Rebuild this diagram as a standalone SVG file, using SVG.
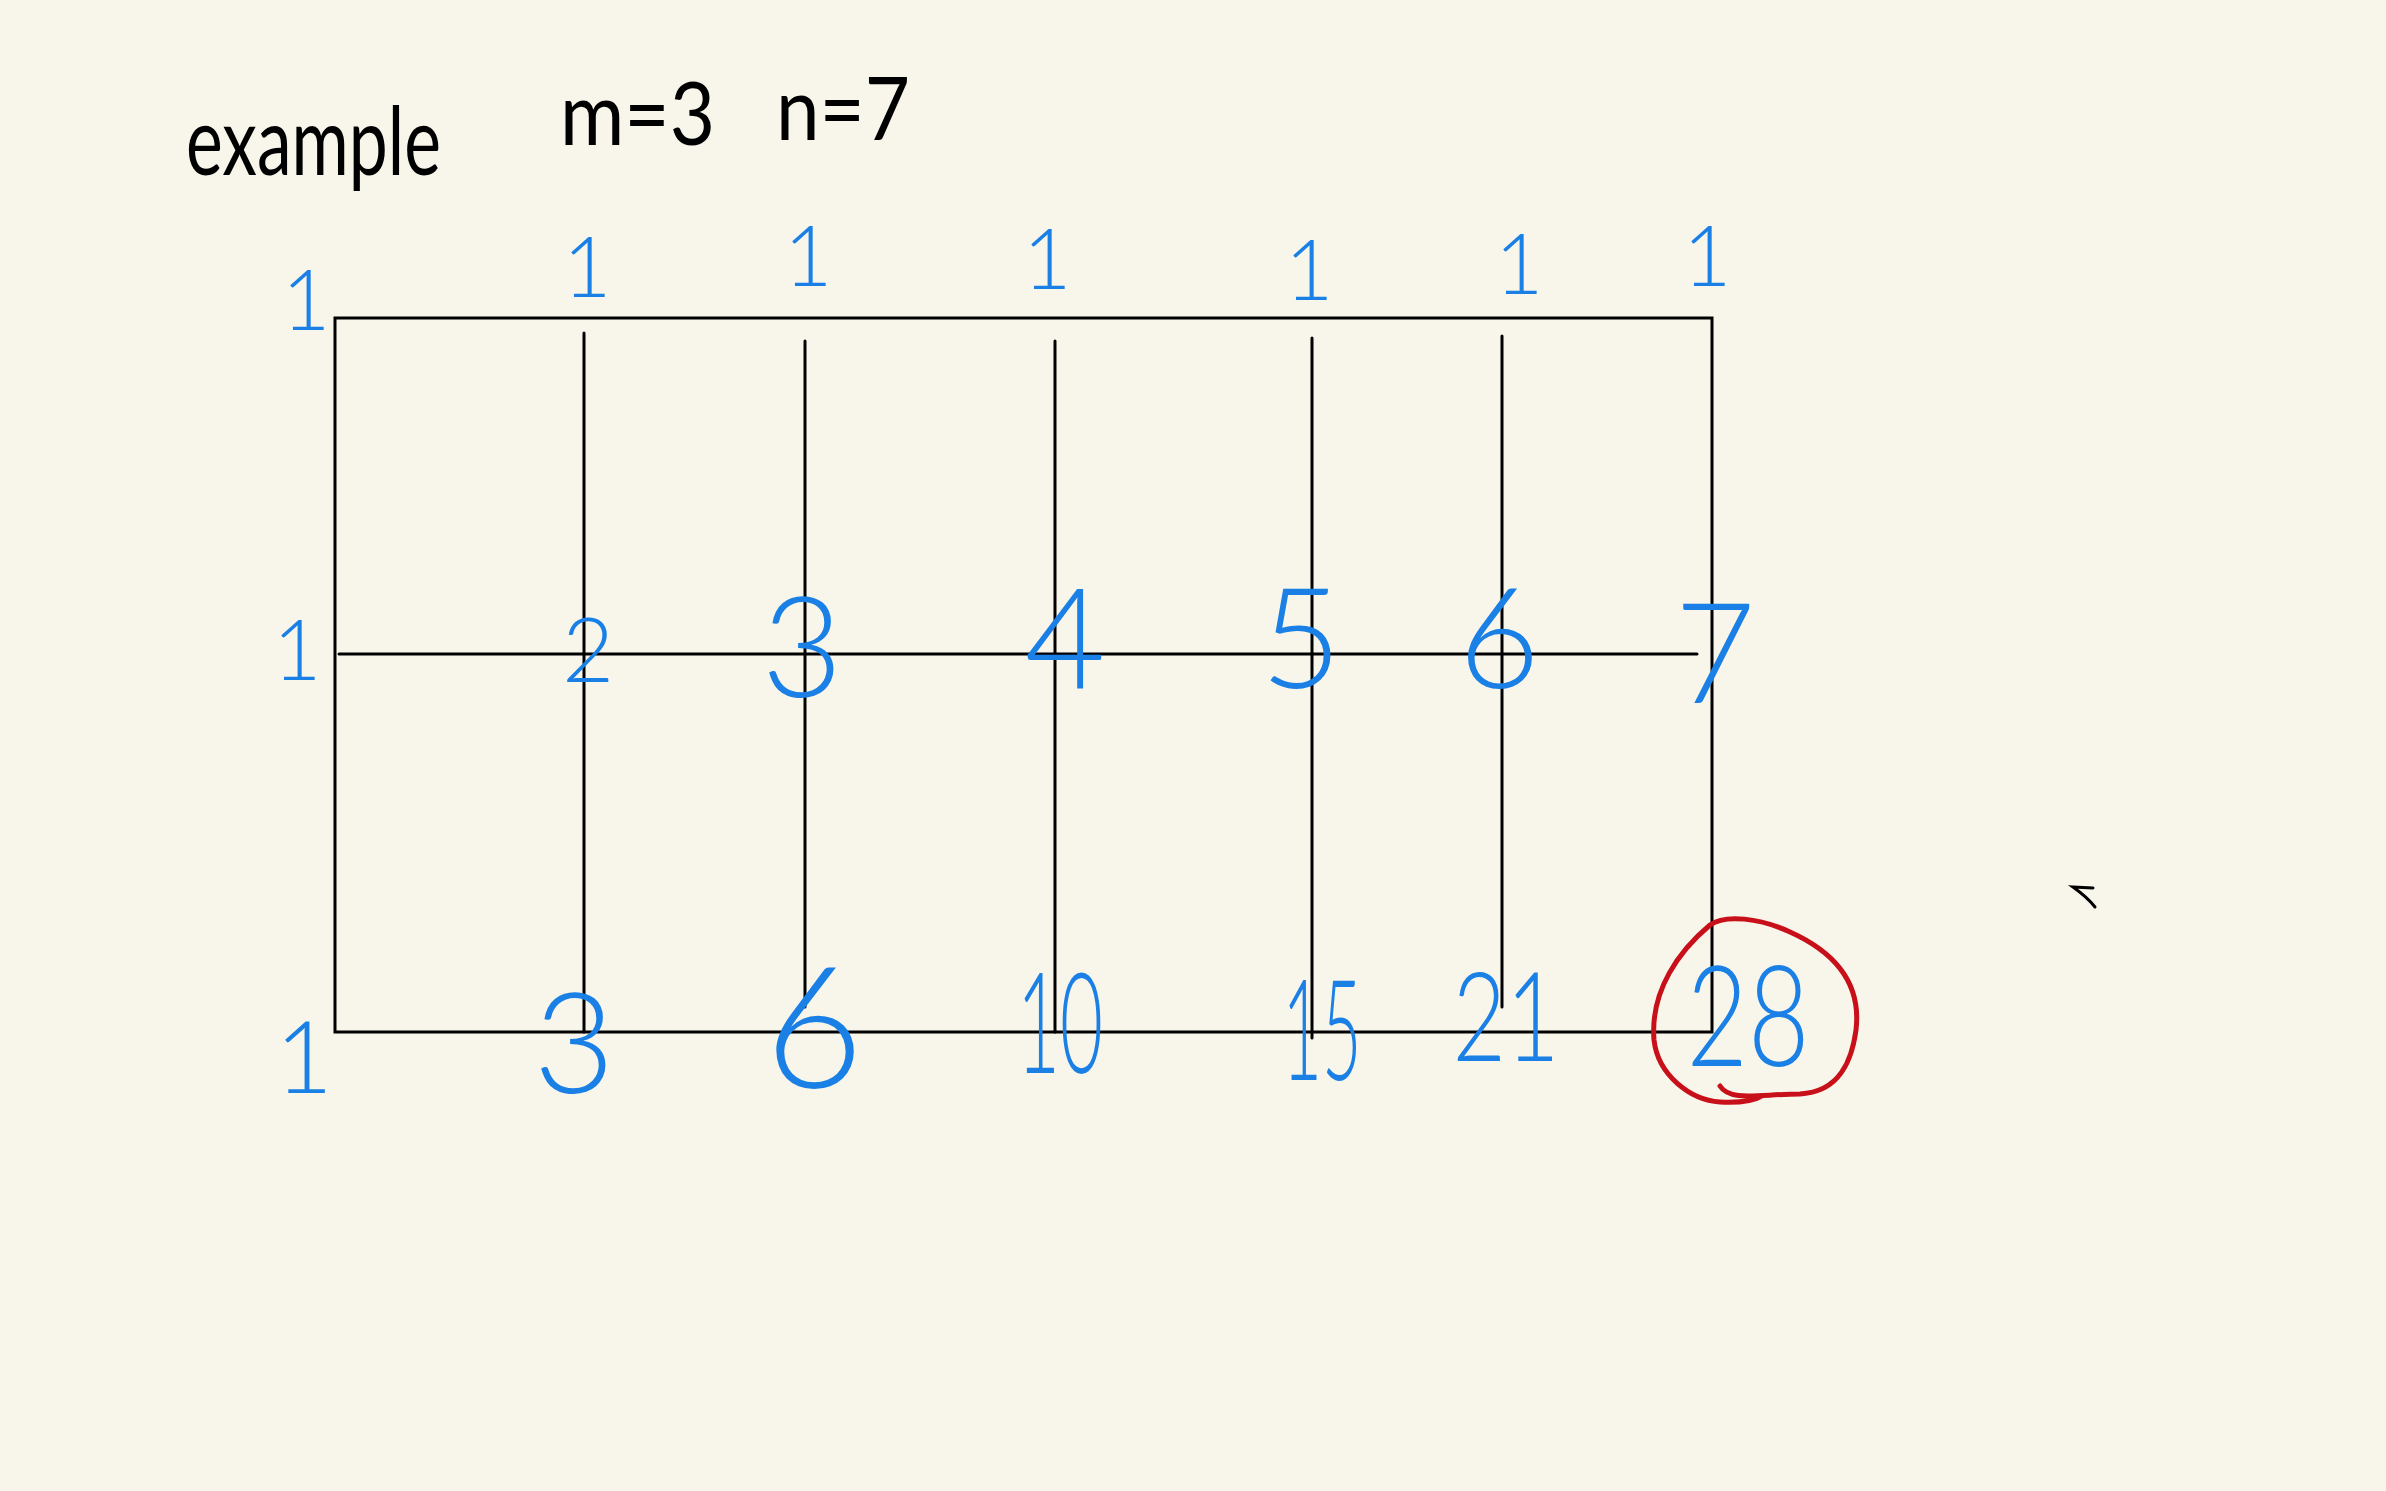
<svg xmlns="http://www.w3.org/2000/svg" width="2386" height="1491" viewBox="0 0 2386 1491">
<style>
.ink{stroke:#000;stroke-width:3;fill:none;stroke-linecap:round}
.num{fill:#1a80e6;font-family:Lato,"Open Sans","Liberation Sans",sans-serif;font-weight:300;text-anchor:middle}
.big{font-size:140px}
.one{font-size:84px}
.title{fill:#000;font-family:Lato,"Open Sans","Liberation Sans",sans-serif;font-weight:400}
</style>
<rect width="2386" height="1491" fill="#f8f6ea"/>
<g id="title">
<text class="title" x="186" y="175" font-size="95" textLength="255" lengthAdjust="spacingAndGlyphs">example</text>
<text class="title" x="560" y="145" font-size="88" textLength="155" lengthAdjust="spacingAndGlyphs">m=3</text>
<text class="title" x="776" y="140" font-size="88" textLength="134" lengthAdjust="spacingAndGlyphs">n=7</text>
</g>
<g id="grid">
<rect x="335" y="318" width="1377" height="714" class="ink"/>
<line class="ink" x1="339" y1="654" x2="1697" y2="654"/>
<line class="ink" x1="584" y1="333" x2="584" y2="1032"/>
<line class="ink" x1="805" y1="341" x2="805" y2="1007"/>
<line class="ink" x1="1055" y1="341" x2="1055" y2="1032"/>
<line class="ink" x1="1312" y1="338" x2="1312" y2="1038"/>
<line class="ink" x1="1502" y1="336" x2="1502" y2="1007"/>
</g>
<g id="row-top">
<text class="num one" x="306" y="330">1</text>
<text class="num one" x="587" y="297">1</text>
<text class="num one" x="808" y="286">1</text>
<text class="num one" x="1047" y="289">1</text>
<text class="num one" x="1309" y="300">1</text>
<text class="num one" x="1519" y="294">1</text>
<text class="num one" x="1707" y="286">1</text>
</g>
<g id="row-middle">
<text class="num one" x="297" y="680">1</text>
<text class="num" font-size="90" x="588" y="682">2</text>
<text class="num big" x="802" y="697">3</text>
<text class="num big" x="1065" y="689">4</text>
<text class="num big" x="1301" y="688">5</text>
<text class="num big" x="1499" y="688">6</text>
<text class="num big" x="1715" y="703">7</text>
</g>
<g id="row-bottom">
<text class="num" font-size="100" x="304" y="1093">1</text>
<text class="num big" x="574" y="1093">3</text>
<text class="num" font-size="170" x="814" y="1088">6</text>
<text class="num big" x="1060" y="1073" textLength="86" lengthAdjust="spacingAndGlyphs">10</text>
<text class="num big" x="1322" y="1080" textLength="79" lengthAdjust="spacingAndGlyphs">15</text>
<text class="num" font-size="125" x="1506" y="1061" textLength="107" lengthAdjust="spacingAndGlyphs">21</text>
</g>
<g id="answer">
<text class="num big" x="1748" y="1066" textLength="123" lengthAdjust="spacingAndGlyphs">28</text>
<path d="M1720,1086 C1730,1102 1760,1094 1800,1094 C1840,1092 1852,1060 1856,1030 C1862,980 1830,950 1790,932 C1760,918 1725,914 1710,925 C1680,950 1650,990 1654,1040 C1658,1075 1690,1100 1720,1102 C1740,1103 1755,1100 1762,1096" fill="none" stroke="#c8101a" stroke-width="5" stroke-linecap="round"/>
</g>
<g id="mark">
<path d="M2095,907 C2088,898 2080,892 2073,887 L2093,888" class="ink" stroke-width="2"/>
</g>
</svg>
